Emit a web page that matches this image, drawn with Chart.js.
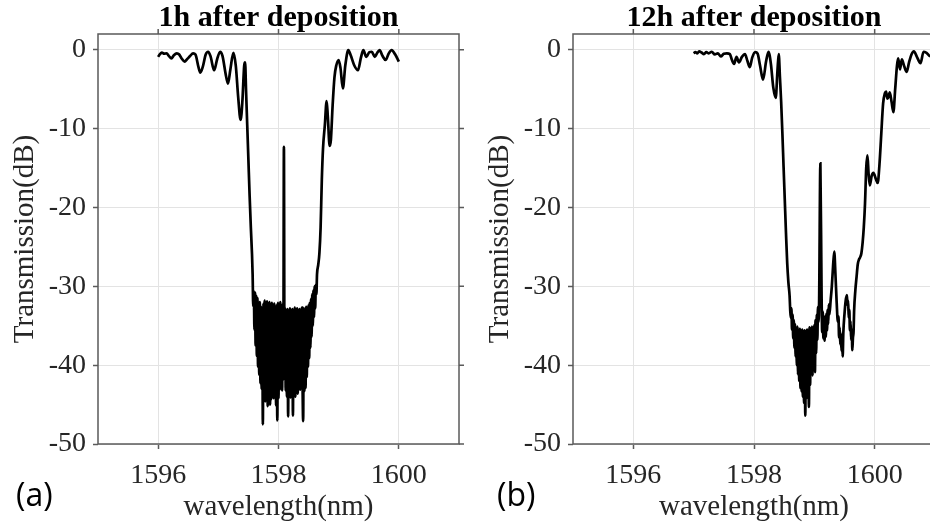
<!DOCTYPE html>
<html><head><meta charset="utf-8">
<script src="https://cdn.jsdelivr.net/npm/chart.js@4.4.0/dist/chart.umd.min.js"></script>
<style>
html,body{margin:0;padding:0;background:#fff;overflow:hidden;width:930px;height:529px;}
#pa{position:absolute;left:0;top:0;width:470px;height:529px;}
#pb{position:absolute;left:475px;top:0;width:475px;height:529px;}
.lab{position:absolute;font-family:"Open Sans",sans-serif;font-size:32px;color:#000;line-height:1;}
</style></head><body>
<div id="pa"><canvas id="ca"></canvas></div>
<div id="pb"><canvas id="cb"></canvas></div>
<div class="lab" style="left:16px;top:478px">(a)</div>
<div class="lab" style="left:497px;top:478px">(b)</div>
<script>
// ---- data ----
const titleA = '1h after deposition';
const titleB = '12h after deposition';
const xTitle = 'wavelength(nm)';
const yTitle = 'Transmission(dB)';
const xTicks = [1596, 1598, 1600];
const yTicks = [0, -10, -20, -30, -40, -50];
const xRange = [1595, 1601];
const yRange = [-50, 2];

// panel (a): wavelength (nm)
const wlA = [
1596.00,1596.03,1596.06,1596.10,1596.14,1596.18,1596.22,1596.26,1596.31,1596.35,
1596.39,1596.44,1596.48,1596.53,1596.58,1596.62,1596.67,1596.70,1596.74,1596.79,
1596.83,1596.87,1596.93,1596.98,1597.03,1597.07,1597.12,1597.16,1597.20,1597.25,
1597.29,1597.33,1597.37,1597.40,1597.43,1597.445,1597.46,1597.48,1597.50,1597.52,
1597.54,1597.56,1597.57,
1597.58,1597.59,1597.60,1597.61,1597.62,1597.63,1597.64,1597.65,1597.66,1597.67,
1597.68,1597.69,1597.70,1597.71,1597.72,1597.73,1597.74,1597.75,1597.76,1597.77,
1597.78,1597.79,1597.80,1597.81,1597.82,1597.83,1597.84,1597.85,1597.86,1597.87,
1597.88,1597.89,1597.90,1597.91,1597.92,1597.93,1597.94,1597.95,1597.96,1597.97,
1597.98,1597.99,1598.00,1598.01,1598.02,1598.03,1598.04,1598.05,1598.06,1598.07,
1598.08,1598.09,1598.10,1598.11,1598.12,1598.13,1598.14,1598.15,1598.16,1598.17,
1598.18,1598.19,1598.20,1598.21,1598.22,1598.23,1598.24,1598.25,1598.26,1598.27,
1598.28,1598.29,1598.30,1598.31,1598.32,1598.33,1598.34,1598.35,1598.36,1598.37,
1598.38,1598.39,1598.40,1598.41,1598.42,1598.43,1598.44,1598.45,1598.46,1598.47,
1598.48,1598.49,1598.50,1598.51,1598.52,1598.53,1598.54,1598.55,1598.56,1598.57,
1598.58,1598.59,1598.60,1598.61,1598.62,1598.63,
1598.64,1598.66,1598.68,1598.70,1598.72,1598.74,1598.77,1598.80,1598.82,1598.85,
1598.87,1598.90,1598.93,1598.96,1599.00,1599.03,1599.07,1599.11,1599.16,1599.20,
1599.26,1599.32,1599.37,1599.41,1599.46,1599.51,1599.55,1599.60,1599.64,1599.68,
1599.73,1599.78,1599.83,1599.88,1599.94,1600.00
];
// panel (a): transmission (dB)
const dbA = [
-0.9,-0.55,-0.35,-0.5,-0.45,-0.8,-1.1,-0.7,-0.45,-0.6,
-1.1,-1.5,-1.2,-0.8,-0.45,-0.6,-2.2,-2.9,-2.2,-0.6,
-0.25,-0.8,-2.6,-1.2,-0.25,-0.8,-3.0,-4.3,-2.5,-0.4,
-2.0,-6.0,-8.9,-6.5,-2.0,-1.6,-5.0,-9.5,-14.0,-18.5,
-22.5,-26.0,-28.5,
-32.5,-30.6,-35.5,-30.8,-37.5,-31.2,-38.8,-31.5,-40.2,-32.4,
-41.2,-32.0,-42.3,-32.6,-43.0,-32.8,-47.5,-32.2,-43.6,-31.8,
-44.6,-32.5,-44.0,-31.9,-45.2,-32.3,-44.1,-32.0,-45.0,-32.4,
-44.3,-32.1,-43.4,-32.6,-44.2,-32.2,-43.0,-32.7,-45.1,-32.4,
-47.0,-32.1,-44.2,-32.5,-43.1,-32.0,-42.6,-32.6,-43.2,-32.3,
-41.8,-12.3,-40.6,-32.8,-43.2,-33.1,-44.0,-32.9,-46.5,-33.2,
-43.0,-32.8,-44.1,-33.3,-42.6,-32.9,-46.4,-33.0,-43.2,-32.7,
-44.0,-33.1,-42.2,-32.8,-43.6,-33.2,-42.0,-32.9,-43.1,-33.0,
-41.6,-32.7,-42.4,-47.1,-32.8,-43.3,-33.0,-42.9,-32.6,-41.5,
-32.9,-40.2,-32.4,-39.1,-32.1,-37.8,-31.6,-36.4,-31.0,-35.0,
-30.5,-33.9,-30.0,-32.8,-29.8,-31.0,
-28.5,-27.3,-25.8,-22.5,-16.5,-12.5,-9.6,-6.5,-8.5,-12.2,
-11.5,-7.0,-3.5,-2.0,-1.3,-2.3,-4.9,-2.0,-0.05,-0.7,
-2.0,-2.6,-1.0,-0.05,-0.9,-0.3,-0.25,-0.9,-0.4,-0.05,
-0.8,-1.3,-0.5,-0.05,-0.6,-1.5
];

// panel (b): wavelength (nm)
const wlB = [
1597.00,1597.03,1597.06,1597.09,1597.13,1597.17,1597.21,1597.25,1597.30,1597.35,
1597.40,1597.45,1597.50,1597.55,1597.60,1597.63,1597.67,1597.71,1597.75,1597.80,
1597.85,1597.89,1597.93,1597.97,1598.02,1598.06,1598.10,1598.15,1598.20,1598.24,
1598.28,1598.32,1598.36,1598.39,1598.41,1598.43,1598.45,1598.47,1598.49,1598.51,
1598.53,1598.55,1598.57,1598.59,
1598.60,1598.61,1598.62,1598.63,1598.64,1598.65,1598.66,1598.67,1598.68,1598.69,
1598.70,1598.71,1598.72,1598.73,1598.74,1598.75,1598.76,1598.77,1598.78,1598.79,
1598.80,1598.81,1598.82,1598.83,1598.84,1598.85,1598.86,1598.87,1598.88,1598.89,
1598.90,1598.91,1598.92,1598.93,1598.94,1598.95,1598.96,1598.97,1598.98,1598.99,
1599.00,1599.01,1599.02,1599.03,1599.04,1599.05,1599.06,1599.07,1599.08,1599.10,
1599.12,1599.13,1599.14,1599.15,1599.16,1599.17,1599.18,1599.19,1599.20,1599.21,
1599.22,1599.23,1599.24,1599.25,1599.27,1599.29,1599.31,1599.33,1599.35,1599.37,
1599.39,1599.40,1599.41,1599.42,1599.43,1599.44,1599.45,1599.46,1599.47,1599.48,
1599.50,1599.52,1599.54,1599.55,1599.56,1599.57,1599.58,1599.59,1599.60,1599.61,
1599.62,1599.63,1599.64,1599.65,1599.66,1599.68,1599.70,1599.72,1599.74,1599.76,
1599.78,1599.80,1599.82,1599.84,1599.86,1599.88,1599.90,1599.92,1599.95,1599.98,
1600.02,1600.05,1600.08,1600.11,1600.14,1600.17,1600.19,1600.21,1600.23,1600.25,
1600.28,1600.31,1600.34,1600.37,1600.39,1600.42,1600.45,1600.49,1600.53,1600.57,
1600.61,1600.65,1600.70,1600.76,1600.81,1600.86,1600.92,1600.97,1601.02
];
// panel (b): transmission (dB)
const dbB = [
-0.45,-0.3,-0.45,-0.2,-0.35,-0.55,-0.3,-0.45,-0.25,-0.6,
-0.45,-0.85,-0.5,-0.45,-0.55,-1.2,-1.8,-0.9,-1.6,-0.9,
-0.55,-1.4,-2.2,-1.0,-0.3,-0.5,-2.0,-3.8,-1.5,-0.25,
-1.8,-4.8,-6.1,-2.5,-0.55,-3.5,-6.6,-10.5,-14.8,-19.0,
-23.2,-27.0,-29.5,-31.2,
-33.0,-34.0,-32.8,-35.5,-33.6,-36.6,-34.3,-37.8,-34.8,-38.9,
-35.3,-40.0,-35.1,-41.2,-35.6,-42.0,-35.4,-42.9,-35.8,-43.3,
-35.5,-44.0,-35.9,-44.8,-35.6,-46.4,-35.8,-44.2,-35.5,-43.6,
-35.7,-45.3,-35.2,-42.5,-35.4,-41.0,-35.1,-41.3,-35.2,-40.6,
-34.9,-40.9,-34.3,-38.5,-33.6,-36.8,-32.6,-34.5,-31.5,-14.4,
-31.0,-35.8,-33.2,-36.6,-33.8,-36.9,-34.0,-36.4,-33.5,-35.6,
-33.0,-34.8,-32.3,-33.6,-31.8,-30.0,-27.5,-25.6,-28.5,-32.0,
-34.5,-33.8,-36.5,-35.2,-37.4,-36.0,-38.2,-37.0,-38.9,-36.0,
-33.5,-31.8,-31.1,-32.4,-31.8,-34.0,-33.0,-35.6,-34.4,-36.8,
-35.5,-38.1,-36.5,-35.8,-33.0,-30.5,-28.8,-27.2,-26.6,-26.3,
-25.8,-24.5,-22.5,-19.5,-15.0,-13.4,-15.8,-17.2,-16.0,-15.6,
-16.4,-16.9,-14.5,-10.6,-6.8,-5.5,-5.3,-6.2,-6.0,-5.4,
-6.6,-7.9,-5.0,-2.0,-1.1,-2.5,-1.2,-2.1,-2.8,-1.6,
-0.6,-0.2,-0.9,-1.7,-0.25,-0.4,-0.8,-0.5,-0.3
];

// ---- styling ----
const SERIF = '"Liberation Serif","Times New Roman",serif';
const AX = '#5a5a5a';
const GRID = '#e3e3e3';
const TXT = '#262626';

const frame = {
  id: 'frame',
  afterDraw(chart) {
    const {ctx, chartArea: a, scales: {x, y}} = chart;
    ctx.save();
    ctx.strokeStyle = AX;
    ctx.lineWidth = 1.5;
    ctx.strokeRect(a.left, a.top, a.right - a.left, a.bottom - a.top);
    ctx.beginPath();
    xTicks.forEach(v => { const p = x.getPixelForValue(v); ctx.moveTo(p, a.top); ctx.lineTo(p, a.top - 5); });
    yTicks.forEach(v => { const p = y.getPixelForValue(v); ctx.moveTo(a.right, p); ctx.lineTo(a.right + 5, p); });
    ctx.stroke();
    ctx.restore();
  }
};

function makeChart(id, wl, db, title, padRight) {
  const pts = wl.map((v, i) => ({x: v, y: db[i]}));
  return new Chart(document.getElementById(id), {
    type: 'line',
    data: { datasets: [{ data: pts, borderColor: '#000', borderWidth: 2.7, pointRadius: 0,
      cubicInterpolationMode: 'monotone', fill: false }] },
    options: {
      responsive: true, maintainAspectRatio: false, animation: false,
      layout: { padding: { left: 0, right: padRight, top: 0, bottom: 0 } },
      plugins: {
        legend: { display: false }, tooltip: { enabled: false },
        title: { display: true, text: title, fullSize: false, color: '#000',
          font: { family: SERIF, size: 30, weight: 'bold', lineHeight: 1 },
          padding: { top: 3, bottom: 1 } }
      },
      scales: {
        x: {
          type: 'linear', min: xRange[0], max: xRange[1],
          afterBuildTicks: s => { s.ticks = xTicks.map(v => ({value: v})); },
          afterFit: s => { s.height = 85; },
          grid: { color: GRID, lineWidth: 1, drawTicks: true, tickLength: 5, tickColor: AX, tickWidth: 1.5 },
          border: { display: false },
          ticks: { font: { family: SERIF, size: 28 }, color: TXT, padding: 10, maxRotation: 0, autoSkip: false,
            callback: v => String(v) },
          title: { display: true, text: xTitle, color: TXT, font: { family: SERIF, size: 29 }, padding: { top: 0, bottom: 4 } }
        },
        y: {
          type: 'linear', min: yRange[0], max: yRange[1],
          afterBuildTicks: s => { s.ticks = yTicks.map(v => ({value: v})); },
          afterFit: s => { s.width = 98; },
          grid: { color: GRID, lineWidth: 1, drawTicks: true, tickLength: 5, tickColor: AX, tickWidth: 1.5 },
          border: { display: false },
          ticks: { font: { family: SERIF, size: 28 }, color: TXT, padding: 7, autoSkip: false,
            callback: v => String(v) },
          title: { display: true, text: yTitle, color: TXT, font: { family: SERIF, size: 29 }, padding: { top: 8, bottom: 0 } }
        }
      }
    },
    plugins: [frame]
  });
}
makeChart('ca', wlA, dbA, titleA, 11);
makeChart('cb', wlB, dbB, titleB, 15);
</script>
</body></html>
